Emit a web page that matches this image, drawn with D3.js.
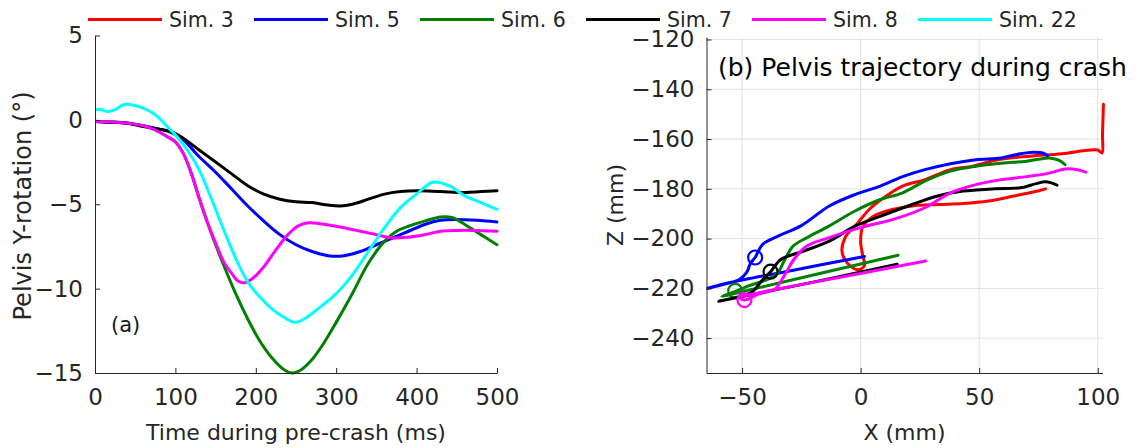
<!DOCTYPE html>
<html>
<head>
<meta charset="utf-8">
<script src="https://cdn.jsdelivr.net/npm/d3@7"></script>
<style>
body { margin: 0; background: #fff; }
svg { display: block; font-family: 'DejaVu Sans', sans-serif; }
.axis path, .axis line { stroke: #262626; }
.axis text { fill: #262626; font-size: 23px; font-family: 'DejaVu Sans', sans-serif; }
.grid line { stroke: #e2e2e2; }
.lbl { fill: #262626; font-size: 22px; }
</style>
</head>
<body>
<svg id="chart" width="1146" height="448"></svg>
<script>
// legend / series
var simNames = ["Sim. 3", "Sim. 5", "Sim. 6", "Sim. 7", "Sim. 8", "Sim. 22"];
var simColors = ["#ff0000", "#0000ff", "#008000", "#000000", "#ff00ff", "#00ffff"];

// (a) pelvis Y-rotation [time ms, deg]
var rotSim5 = [[0,-0.1],[20,-0.12],[40,-0.18],[60,-0.35],[80,-0.55],[95,-0.75],[110,-1.2],[130,-2.2],[150,-3.1],[170,-4.1],[190,-5.1],[210,-6.0],[230,-6.8],[250,-7.4],[270,-7.8],[290,-8.05],[310,-8.05],[330,-7.8],[350,-7.4],[370,-7.0],[390,-6.6],[410,-6.2],[430,-5.95],[450,-5.9],[475,-5.95],[500,-6.05]];
var rotSim6 = [[0,-0.1],[20,-0.12],[40,-0.2],[60,-0.35],[75,-0.6],[90,-1.0],[100,-1.3],[110,-2.0],[120,-3.2],[130,-4.7],[140,-6.1],[150,-7.4],[160,-8.6],[175,-10.3],[190,-11.8],[205,-13.1],[220,-14.1],[235,-14.8],[245,-15.0],[255,-14.85],[270,-14.2],[285,-13.2],[300,-12.0],[320,-10.3],[340,-8.5],[360,-7.2],[375,-6.6],[390,-6.3],[410,-6.0],[430,-5.75],[445,-5.8],[460,-6.2],[480,-6.8],[500,-7.4]];
var rotSim7 = [[0,-0.1],[20,-0.15],[40,-0.2],[60,-0.4],[80,-0.55],[95,-0.7],[110,-1.1],[130,-1.8],[150,-2.5],[170,-3.2],[190,-3.9],[210,-4.4],[230,-4.7],[250,-4.85],[270,-4.9],[290,-5.05],[305,-5.1],[320,-5.0],[340,-4.7],[360,-4.4],[380,-4.25],[400,-4.2],[430,-4.25],[460,-4.3],[480,-4.25],[500,-4.2]];
var rotSim8 = [[0,-0.1],[20,-0.12],[40,-0.2],[60,-0.35],[75,-0.6],[90,-1.0],[100,-1.3],[110,-2.0],[120,-3.2],[130,-4.7],[140,-6.1],[150,-7.3],[160,-8.4],[170,-9.1],[178,-9.55],[186,-9.65],[196,-9.4],[210,-8.7],[225,-7.7],[240,-6.8],[252,-6.3],[265,-6.1],[280,-6.15],[300,-6.3],[325,-6.55],[350,-6.8],[370,-7.0],[390,-6.95],[410,-6.8],[430,-6.6],[450,-6.55],[470,-6.55],[500,-6.6]];
var rotSim22 = [[0,0.6],[8,0.6],[15,0.5],[25,0.6],[35,0.9],[45,0.9],[60,0.7],[75,0.3],[90,-0.4],[100,-0.9],[115,-1.8],[130,-3.0],[145,-4.7],[160,-6.5],[175,-8.2],[190,-9.6],[205,-10.5],[220,-11.2],[235,-11.7],[248,-12.0],[260,-11.8],[280,-11.1],[300,-10.3],[320,-9.2],[340,-7.8],[360,-6.4],[380,-5.2],[400,-4.4],[420,-3.7],[440,-3.9],[460,-4.5],[480,-4.9],[500,-5.3]];

// (b) pelvis trajectory [X mm, Z mm]
var trajSim3 = [[78,-180],[72.8,-181.3],[64.7,-182.9],[54,-184.9],[43.2,-185.9],[32.5,-186.3],[21.7,-186.9],[11,-188.9],[5.6,-190.9],[1,-195],[0,-201],[0.9,-206.9],[1.6,-210.9],[-1.1,-212.5],[-5.1,-210.3],[-7.8,-205.6],[-6.5,-199.5],[-1.1,-193.6],[3.6,-188.3],[9.7,-183.6],[17.7,-178.9],[27.1,-176.3],[37.9,-172.3],[47.2,-170.9],[58,-168.3],[71.4,-166.9],[84.8,-165.9],[95.6,-164.5],[100,-164.4],[101.8,-165.6],[102,-158],[102.4,-146]];
var trajSim5 = [[1.6,-207.2],[-30,-213],[-55,-217.6],[-66,-220.3],[-58,-218.5],[-51,-216.3],[-48,-213.5],[-46.5,-210],[-44.5,-207.6],[-41.3,-202.3],[-34.6,-198.9],[-25.2,-194.9],[-13.2,-186.9],[-2.4,-182.3],[8.3,-178.9],[17.7,-175.1],[27.1,-172.3],[37.9,-169.9],[48.6,-168.3],[59.3,-167.6],[67.4,-165.9],[72.8,-165.3],[76.8,-165.6],[78.8,-166.7]];
var trajSim6 = [[15.8,-206.7],[-20,-214.6],[-45,-220.2],[-58.5,-223.2],[-55,-222],[-51,-220.5],[-47,-218.9],[-39,-216.3],[-35,-213.8],[-32,-208.5],[-28.5,-203],[-22.6,-199.6],[-13.2,-194.9],[-2.4,-188.9],[8.3,-184.3],[17.7,-181.6],[27.1,-176.9],[37.9,-172.9],[48.6,-170.9],[59.3,-169.7],[70.1,-168.9],[79.5,-167.6],[83.5,-168.5],[86.2,-170.3]];
var trajSim7 = [[15.4,-210.3],[-20,-217.5],[-45,-222.3],[-59.9,-225.2],[-54,-224],[-48,-222.5],[-45,-220.8],[-42.3,-217.6],[-38,-213.3],[-33.5,-208.3],[-24,-205],[-13.2,-201],[-2.4,-195],[8.4,-191],[21.7,-186.3],[32.5,-182.9],[43.2,-180.9],[56.6,-180],[67.4,-179.6],[74.1,-177.9],[78.1,-177.2],[82.8,-178.5]];
var trajSim8 = [[27.4,-209],[0,-214],[-25,-218.5],[-45,-222.2],[-51,-223.6],[-49,-224.7],[-43,-222.3],[-36.2,-220.3],[-32.2,-214.9],[-28.1,-208.3],[-22.7,-203],[-13.2,-199.6],[0.3,-195.5],[13.7,-192.3],[27.1,-187.6],[37.9,-181.6],[48.6,-178.3],[59.3,-176.3],[70.1,-175.1],[79.5,-173.7],[86.2,-172],[91.5,-172.3],[94.9,-173.3]];
// circle markers [X, Z]
var markSim5 = [-44.5, -207.6];
var markSim6 = [-52.9, -221];
var markSim7 = [-38, -213.3];
var markSim8 = [-49, -224.7];

var timeTicks = [0, 100, 200, 300, 400, 500];
var rotTicks = [5, 0, -5, -10, -15];
var xTicks = [-50, 0, 50, 100];
var zTicks = [-120, -140, -160, -180, -200, -220, -240];

var svg = d3.select("#chart");
var defs = svg.append("defs");

// ---------- panel (a)
var xa = d3.scaleLinear().domain([0, 500]).range([95, 497]);
var ya = d3.scaleLinear().domain([-15, 5]).range([373, 35.5]);

defs.append("clipPath").attr("id", "clipA")
  .append("rect").attr("x", 95).attr("y", 30).attr("width", 405).attr("height", 345);

var lineA = d3.line().x(function (d) { return xa(d[0]); }).y(function (d) { return ya(d[1]); })
  .curve(d3.curveCatmullRom.alpha(0.5));

var rotSeries = [
  { data: rotSim5, color: simColors[1] },
  { data: rotSim6, color: simColors[2] },
  { data: rotSim7, color: simColors[3] },
  { data: rotSim8, color: simColors[4] },
  { data: rotSim22, color: simColors[5] }
];

var gA = svg.append("g").attr("clip-path", "url(#clipA)");
rotSeries.forEach(function (s) {
  gA.append("path").attr("d", lineA(s.data))
    .attr("fill", "none").attr("stroke", s.color).attr("stroke-width", 3)
    .attr("stroke-linejoin", "round").attr("stroke-linecap", "round");
});

svg.append("g").attr("class", "axis").attr("transform", "translate(0,373)")
  .call(d3.axisBottom(xa).tickValues(timeTicks).tickSizeInner(-5).tickSizeOuter(0).tickPadding(16));
svg.append("g").attr("class", "axis").attr("transform", "translate(95,0)")
  .call(d3.axisLeft(ya).tickValues(rotTicks).tickSizeInner(-5).tickSizeOuter(0).tickPadding(12));

svg.append("text").attr("class", "lbl").attr("x", 296).attr("y", 440)
  .attr("text-anchor", "middle").text("Time during pre-crash (ms)");
svg.append("text").attr("class", "lbl").attr("transform", "translate(31,206) rotate(-90)")
  .attr("text-anchor", "middle").style("font-size", "24px").text("Pelvis Y-rotation (°)");
svg.append("text").attr("x", 111).attr("y", 332).attr("font-size", 21).attr("fill", "#1a1a1a").text("(a)");

// ---------- panel (b)
var xb = d3.scaleLinear().domain([-65, 102]).range([706.5, 1102.5]);
var yb = d3.scaleLinear().domain([-254, -119]).range([373, 37]);

defs.append("clipPath").attr("id", "clipB")
  .append("rect").attr("x", 706.5).attr("y", 37).attr("width", 402).attr("height", 336);

var grid = svg.append("g").attr("class", "grid");
grid.selectAll("line.v").data(xTicks).enter().append("line").attr("class", "v")
  .attr("x1", function (d) { return xb(d); }).attr("x2", function (d) { return xb(d); })
  .attr("y1", yb.range()[0]).attr("y2", yb.range()[1]);
grid.selectAll("line.h").data(zTicks).enter().append("line").attr("class", "h")
  .attr("x1", xb.range()[0]).attr("x2", xb.range()[1])
  .attr("y1", function (d) { return yb(d); }).attr("y2", function (d) { return yb(d); });

var lineB = d3.line().x(function (d) { return xb(d[0]); }).y(function (d) { return yb(d[1]); })
  .curve(d3.curveCatmullRom.alpha(0.5));

var trajSeries = [
  { data: trajSim3, color: simColors[0], mark: null },
  { data: trajSim5, color: simColors[1], mark: markSim5 },
  { data: trajSim6, color: simColors[2], mark: markSim6 },
  { data: trajSim7, color: simColors[3], mark: markSim7 },
  { data: trajSim8, color: simColors[4], mark: markSim8 }
];

var gB = svg.append("g").attr("clip-path", "url(#clipB)");
trajSeries.forEach(function (s) {
  gB.append("path").attr("d", lineB(s.data))
    .attr("fill", "none").attr("stroke", s.color).attr("stroke-width", 3)
    .attr("stroke-linejoin", "round").attr("stroke-linecap", "round");
  if (s.mark) {
    gB.append("circle").attr("cx", xb(s.mark[0])).attr("cy", yb(s.mark[1])).attr("r", 7)
      .attr("fill", "none").attr("stroke", s.color).attr("stroke-width", 2.2);
  }
});

svg.append("g").attr("class", "axis").attr("transform", "translate(0,373)")
  .call(d3.axisBottom(xb).tickValues(xTicks).tickSizeInner(-5).tickSizeOuter(0).tickPadding(16));
svg.append("g").attr("class", "axis").attr("transform", "translate(706.5,0)")
  .call(d3.axisLeft(yb).tickValues(zTicks).tickSizeInner(-5).tickSizeOuter(0).tickPadding(12));

svg.append("text").attr("class", "lbl").attr("x", 904.5).attr("y", 440)
  .attr("text-anchor", "middle").text("X (mm)");
svg.append("text").attr("class", "lbl").attr("transform", "translate(623,205) rotate(-90)")
  .attr("text-anchor", "middle").text("Z (mm)");
svg.append("text").attr("x", 718).attr("y", 76).attr("font-size", 25).attr("fill", "#000")
  .text("(b) Pelvis trajectory during crash");

// ---------- legend
var legend = svg.append("g");
simNames.forEach(function (name, i) {
  var x0 = 88 + i * 166;
  legend.append("line").attr("x1", x0).attr("x2", x0 + 74).attr("y1", 19.5).attr("y2", 19.5)
    .attr("stroke", simColors[i]).attr("stroke-width", 3);
  legend.append("text").attr("x", x0 + 81).attr("y", 26.5).attr("font-size", 20.5)
    .attr("fill", "#262626").text(name);
});
</script>
</body>
</html>
